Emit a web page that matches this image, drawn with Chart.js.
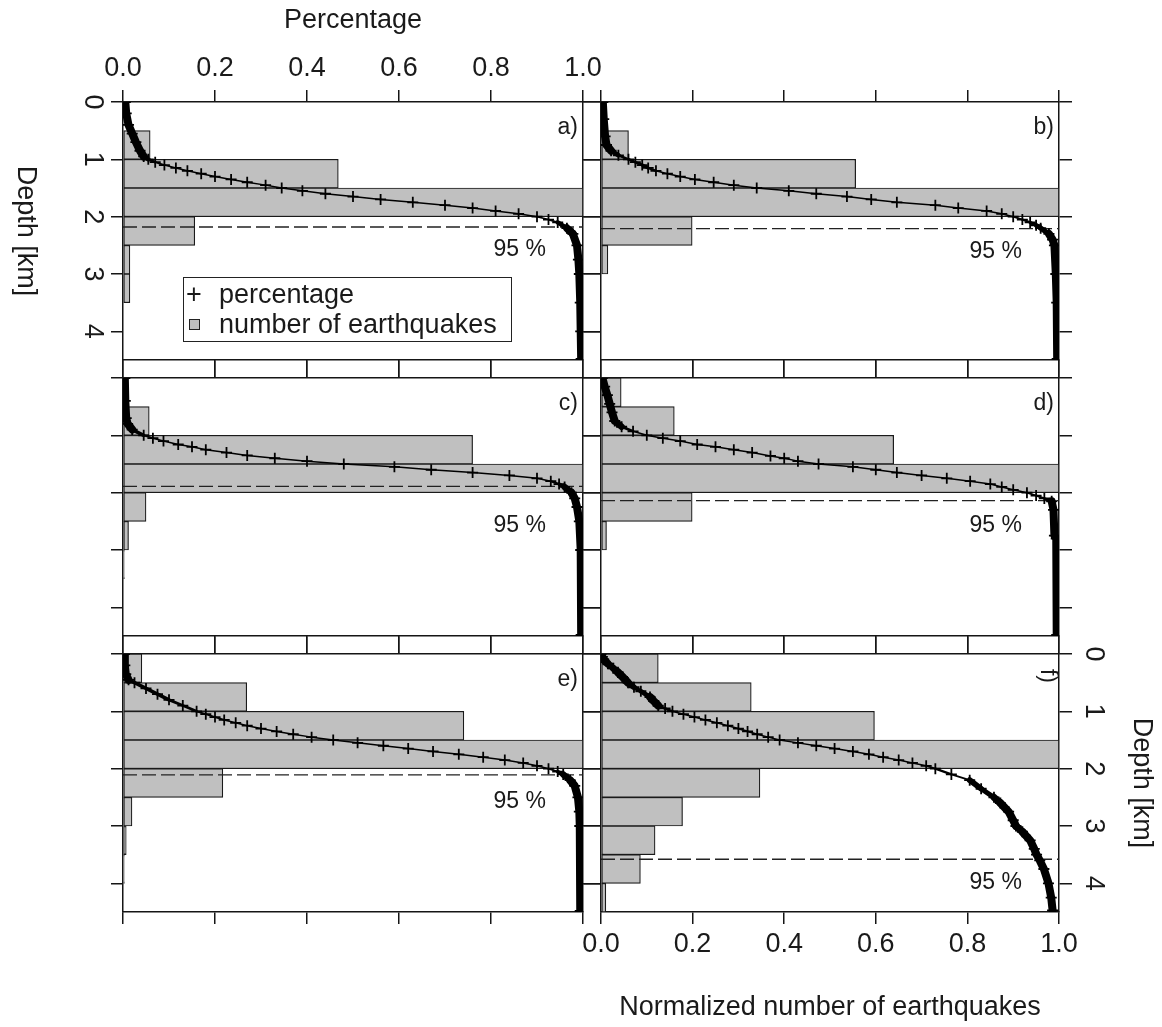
<!DOCTYPE html>
<html>
<head>
<meta charset="utf-8">
<title>Depth distribution of earthquakes</title>
<script src="https://cdn.jsdelivr.net/npm/chart.js@4.4.0/dist/chart.umd.min.js"></script>
<style>
  body { margin: 0; background: #fff; }
  #wrap { position: relative; width: 1162px; height: 1027px; font-family: "Liberation Sans", Arial, sans-serif; color: #1a1a1a; }
  #wrap canvas { position: absolute; left: 0; top: 0; }
  .legenda { position: absolute; left: 183px; top: 277px; width: 327px; height: 63px; border: 1.5px solid #222; font-size: 27px; line-height: 30px; z-index: 5; }
  .legenda .row { position: absolute; left: 0; height: 30px; }
  .legenda .txt { position: absolute; left: 35px; white-space: nowrap; }
  .legenda .plus { position: absolute; left: 2px; top: 0; }
  .legenda .box { position: absolute; left: 5px; top: 10px; width: 9px; height: 9px; background: #c0c0c0; border: 1px solid #222; }
</style>
</head>
<body>
<div id="wrap">
  <div class="legenda">
    <div class="row" style="top:1px"><span class="plus">+</span><span class="txt">percentage</span></div>
    <div class="row" style="top:31px"><span class="box"></span><span class="txt">number of earthquakes</span></div>
  </div>
</div>
<script>
// eixos
const pctTicks = [0, 0.2, 0.4, 0.6, 0.8, 1.0];
const depthTicks = [0, 1, 2, 3, 4];
const depthMax = 4.5;
const binDepths = [0.25, 0.75, 1.25, 1.75, 2.25, 2.75, 3.25, 3.75, 4.25];
const panelTags = ['a)', 'b)', 'c)', 'd)', 'e)', 'f)'];
const depth95 = [2.18, 2.21, 1.89, 2.14, 2.11, 3.58];

// histogramas normalizados (uma barra por 0.5 km)
const barsA = [0, 0.059, 0.468, 1.0, 0.156, 0.015, 0.015, 0, 0];
const barsB = [0, 0.06, 0.556, 1.0, 0.199, 0.015, 0, 0, 0];
const barsC = [0, 0.057, 0.76, 1.0, 0.05, 0.012, 0.003, 0, 0];
const barsD = [0.044, 0.16, 0.639, 1.0, 0.199, 0.012, 0, 0, 0];
const barsE = [0.041, 0.269, 0.741, 1.0, 0.217, 0.0195, 0.007, 0.003, 0];
const barsF = [0.125, 0.328, 0.597, 1.0, 0.347, 0.178, 0.118, 0.086, 0.0105];

// curvas acumuladas (profundidade em km, fracao)
const curveDepthA = [0, 0.2, 0.4, 0.55, 0.7, 0.85, 0.95, 1.0, 1.05, 1.1, 1.15, 1.2, 1.25, 1.3, 1.35, 1.4, 1.45, 1.5, 1.55, 1.6, 1.65, 1.7, 1.75, 1.8, 1.85, 1.9, 1.95, 2.0, 2.05, 2.1, 2.2, 2.3, 2.5, 2.75, 3.0, 3.5, 4.0, 4.48];
const curvePctA = [0.005, 0.007, 0.012, 0.02, 0.028, 0.037, 0.045, 0.055, 0.07, 0.09, 0.115, 0.14, 0.17, 0.2, 0.235, 0.27, 0.31, 0.345, 0.39, 0.44, 0.5, 0.56, 0.63, 0.7, 0.76, 0.81, 0.86, 0.9, 0.925, 0.945, 0.965, 0.978, 0.987, 0.99, 0.992, 0.994, 0.995, 0.996];

const curveDepthB = [0, 0.3, 0.6, 0.75, 0.85, 0.93, 1.0, 1.05, 1.1, 1.15, 1.2, 1.25, 1.3, 1.35, 1.4, 1.45, 1.5, 1.55, 1.6, 1.65, 1.7, 1.75, 1.8, 1.85, 1.9, 1.95, 2.0, 2.05, 2.1, 2.15, 2.2, 2.3, 2.4, 2.5, 3.0, 3.5, 4.48];
const curvePctB = [0.004, 0.006, 0.009, 0.012, 0.022, 0.038, 0.06, 0.075, 0.09, 0.103, 0.12, 0.145, 0.173, 0.205, 0.246, 0.29, 0.34, 0.41, 0.47, 0.537, 0.59, 0.646, 0.73, 0.78, 0.842, 0.875, 0.9, 0.92, 0.937, 0.95, 0.96, 0.978, 0.986, 0.99, 0.993, 0.995, 0.996];

const curveDepthC = [0, 0.4, 0.7, 0.8, 0.9, 1.0, 1.05, 1.1, 1.16, 1.2, 1.25, 1.3, 1.35, 1.4, 1.45, 1.5, 1.55, 1.6, 1.65, 1.7, 1.75, 1.8, 1.85, 1.9, 2.0, 2.1, 2.25, 2.5, 3.0, 4.48];
const curvePctC = [0.004, 0.005, 0.007, 0.01, 0.02, 0.045, 0.065, 0.088, 0.12, 0.15, 0.18, 0.225, 0.27, 0.33, 0.4, 0.48, 0.59, 0.67, 0.76, 0.84, 0.9, 0.93, 0.948, 0.96, 0.975, 0.982, 0.987, 0.992, 0.995, 0.996];

const curveDepthD = [0, 0.15, 0.3, 0.45, 0.6, 0.75, 0.85, 0.93, 1.0, 1.05, 1.1, 1.16, 1.2, 1.25, 1.3, 1.36, 1.4, 1.45, 1.5, 1.55, 1.6, 1.65, 1.7, 1.75, 1.8, 1.85, 1.9, 1.95, 2.0, 2.05, 2.1, 2.15, 2.3, 2.75, 2.8, 4.48];
const curvePctD = [0.003, 0.008, 0.014, 0.019, 0.024, 0.03, 0.045, 0.07, 0.1, 0.135, 0.173, 0.21, 0.25, 0.29, 0.33, 0.37, 0.4, 0.43, 0.475, 0.55, 0.6, 0.646, 0.7, 0.755, 0.806, 0.85, 0.875, 0.9, 0.93, 0.95, 0.968, 0.984, 0.988, 0.99, 0.994, 0.995];

const curveDepthE = [0, 0.2, 0.35, 0.45, 0.5, 0.6, 0.7, 0.8, 0.9, 1.0, 1.05, 1.1, 1.15, 1.2, 1.25, 1.3, 1.35, 1.4, 1.45, 1.5, 1.55, 1.6, 1.65, 1.7, 1.75, 1.8, 1.85, 1.9, 1.95, 2.0, 2.05, 2.1, 2.2, 2.3, 2.5, 2.75, 3.0, 4.48];
const curvePctE = [0.003, 0.004, 0.006, 0.012, 0.025, 0.05, 0.075, 0.1, 0.13, 0.16, 0.18, 0.2, 0.22, 0.245, 0.27, 0.3, 0.334, 0.37, 0.41, 0.457, 0.51, 0.566, 0.62, 0.674, 0.73, 0.783, 0.83, 0.87, 0.9, 0.925, 0.945, 0.957, 0.972, 0.982, 0.989, 0.992, 0.993, 0.994];

const curveDepthF = [0, 0.05, 0.1, 0.17, 0.25, 0.32, 0.4, 0.5, 0.58, 0.65, 0.75, 0.82, 0.9, 0.95, 1.0, 1.05, 1.1, 1.15, 1.2, 1.25, 1.3, 1.35, 1.4, 1.45, 1.5, 1.55, 1.6, 1.65, 1.7, 1.75, 1.8, 1.85, 1.9, 1.95, 2.0, 2.1, 2.2, 2.35, 2.5, 2.6, 2.75, 2.9, 3.0, 3.1, 3.25, 3.4, 3.5, 3.6, 3.75, 4.0, 4.25, 4.47];
const curvePctF = [0.0, 0.003, 0.006, 0.015, 0.027, 0.037, 0.047, 0.059, 0.072, 0.087, 0.107, 0.115, 0.125, 0.14, 0.156, 0.18, 0.204, 0.228, 0.253, 0.277, 0.3, 0.32, 0.341, 0.365, 0.39, 0.43, 0.47, 0.51, 0.55, 0.585, 0.616, 0.65, 0.68, 0.71, 0.73, 0.765, 0.805, 0.83, 0.858, 0.872, 0.89, 0.9, 0.906, 0.92, 0.937, 0.946, 0.951, 0.958, 0.967, 0.977, 0.983, 0.986];

const barSets = [barsA, barsB, barsC, barsD, barsE, barsF];
const curveDepths = [curveDepthA, curveDepthB, curveDepthC, curveDepthD, curveDepthE, curveDepthF];
const curvePcts = [curvePctA, curvePctB, curvePctC, curvePctD, curvePctE, curvePctF];

// layout da figura
const W = 1162, H = 1027;
const colLeft = [123, 601], colRight = [583, 1059];
const rowTop = [102, 378, 654], rowBottom = [360, 636, 912];
const ink = '#1a1a1a';
const frame = '#151515';
const family = '"Liberation Sans", Arial, sans-serif';

Chart.defaults.font.family = family;
Chart.defaults.font.size = 27;
Chart.defaults.color = ink;

const wrap = document.getElementById('wrap');

// textos girados e anotacoes de cada painel
const panelDecor = {
  id: 'panelDecor',
  afterDatasetsDraw(chart, args, o) {
    const ctx = chart.ctx;
    const a = chart.chartArea;
    const ys = chart.scales.y;
    ctx.save();
    ctx.fillStyle = ink;
    ctx.font = '23px ' + family;
    ctx.textBaseline = 'middle';
    ctx.textAlign = 'right';
    const labDepth = Math.max(o.depth95 + 0.4, 2.57);
    ctx.fillText('95 %', a.right - 37, ys.getPixelForValue(labDepth));
    if (o.tagRotated) {
      ctx.translate(a.right - 12, a.top + 22);
      ctx.rotate(Math.PI / 2);
      ctx.textAlign = 'center';
      ctx.fillText(o.tag, 0, 0);
    } else {
      ctx.fillText(o.tag, a.right - 5, a.top + 26);
    }
    ctx.restore();
  },
  afterDraw(chart, args, o) {
    const ctx = chart.ctx;
    const ys = chart.scales.y;
    ctx.save();
    ctx.fillStyle = ink;
    ctx.font = '27px ' + family;
    ctx.textAlign = 'center';
    ctx.textBaseline = 'middle';
    if (o.labelX) {
      ys.ticks.forEach(t => {
        ctx.save();
        ctx.translate(o.labelX, ys.getPixelForValue(t.value));
        ctx.rotate(Math.PI / 2);
        ctx.fillText(String(t.value), 0, 0);
        ctx.restore();
      });
    }
    if (o.leftTitle) {
      ctx.translate(25, (ys.top + ys.bottom) / 2);
      ctx.rotate(Math.PI / 2);
      ctx.fillText(o.leftTitle, 0, 0);
    }
    ctx.restore();
  }
};

function gridOpts(tickLen) {
  return { offset: false, drawOnChartArea: false, drawTicks: true, tickLength: tickLen, tickWidth: 1.5, lineWidth: 1.5, color: frame, tickColor: frame };
}

function xAxis(pos, size, tickLen, showLabels, title, pad) {
  return {
    type: 'linear', position: pos, min: pctTicks[0], max: pctTicks[pctTicks.length - 1], offset: false,
    afterBuildTicks: s => { s.ticks = pctTicks.map(v => ({ value: v })); },
    afterFit: s => { s.height = size; },
    grid: gridOpts(tickLen),
    border: { display: true, color: frame, width: 1.5 },
    ticks: { display: showLabels, padding: pad, maxRotation: 0, color: ink, callback: v => v.toFixed(1) },
    title: { display: !!title, text: title || '', color: ink, padding: { top: 4, bottom: 3 } }
  };
}

function yAxis(pos, size, tickLen, title) {
  return {
    type: 'linear', position: pos, min: 0, max: depthMax, reverse: true, offset: false,
    afterBuildTicks: s => { s.ticks = depthTicks.map(v => ({ value: v })); },
    afterFit: s => { s.width = size; },
    grid: gridOpts(tickLen),
    border: { display: true, color: frame, width: 1.5 },
    ticks: { display: false },
    title: { display: !!title, text: title || '', color: ink, padding: { top: 4, bottom: 4 } }
  };
}

// linha grossa onde a curva e ingreme (pontos densos)
function segWidth(ctx) {
  const dx = Math.abs(ctx.p1.x - ctx.p0.x);
  const dy = Math.abs(ctx.p1.y - ctx.p0.y);
  const r = dy / Math.max(dx, 0.5);
  return Math.max(1.5, Math.min(8, r * 9 - 1));
}

function makePanel(i) {
  const col = i % 2, row = Math.floor(i / 2);
  const L = colLeft[col], R = colRight[col], T = rowTop[row], B = rowBottom[row];
  const canvas = document.createElement('canvas');
  canvas.width = W;
  canvas.height = H;
  wrap.appendChild(canvas);

  const gapX = colLeft[1] - colRight[0];
  const gapY = rowTop[1] - rowBottom[0];

  const curve = curveDepths[i].map((d, k) => ({ x: curvePcts[i][k], y: d }));
  const bars = binDepths.map((d, k) => ({ x: barSets[i][k], y: d }));
  const dashed = [{ x: pctTicks[0], y: depth95[i] }, { x: pctTicks[pctTicks.length - 1], y: depth95[i] }];

  new Chart(canvas, {
    type: 'bar',
    data: {
      datasets: [
        {
          type: 'line', label: 'percentage', data: curve, order: 1, clip: 0,
          borderColor: '#000', borderWidth: 1.5, borderCapStyle: 'round', borderJoinStyle: 'round',
          pointStyle: 'cross', pointRadius: 5.5, pointBorderWidth: 1.8, pointBorderColor: '#000',
          segment: { borderWidth: segWidth }
        },
        {
          type: 'line', label: '95 %', data: dashed, order: 2,
          borderColor: '#222', borderWidth: 1.3, borderDash: [14, 5], pointRadius: 0
        },
        {
          type: 'bar', label: 'number of earthquakes', data: bars, order: 3,
          backgroundColor: '#c0c0c0', borderColor: '#1a1a1a', borderWidth: 1.2, borderSkipped: false,
          barPercentage: 1, categoryPercentage: 1
        }
      ]
    },
    options: {
      indexAxis: 'y',
      responsive: false,
      animation: false,
      events: [],
      layout: { padding: 0 },
      plugins: {
        legend: { display: false },
        tooltip: { enabled: false },
        panelDecor: {
          tag: panelTags[i],
          tagRotated: i === 5,
          depth95: depth95[i],
          labelX: i === 0 ? 92 : (i === 5 ? 1093 : 0),
          leftTitle: i === 0 ? 'Depth [km]' : ''
        }
      },
      scales: {
        x: xAxis('bottom', H - B, row === 2 ? 12 : gapY, i === 5, i === 5 ? 'Normalized number of earthquakes' : '', 4),
        xTop: xAxis('top', T, row === 0 ? 12 : gapY, i === 0, i === 0 ? 'Percentage' : '', 5),
        y: yAxis('left', L, col === 0 ? 12 : gapX, ''),
        yRight: yAxis('right', W - R, col === 1 ? 13 : gapX, i === 5 ? 'Depth [km]' : '')
      }
    },
    plugins: [panelDecor]
  });
}

for (let i = 0; i < 6; i++) makePanel(i);
</script>
</body>
</html>
